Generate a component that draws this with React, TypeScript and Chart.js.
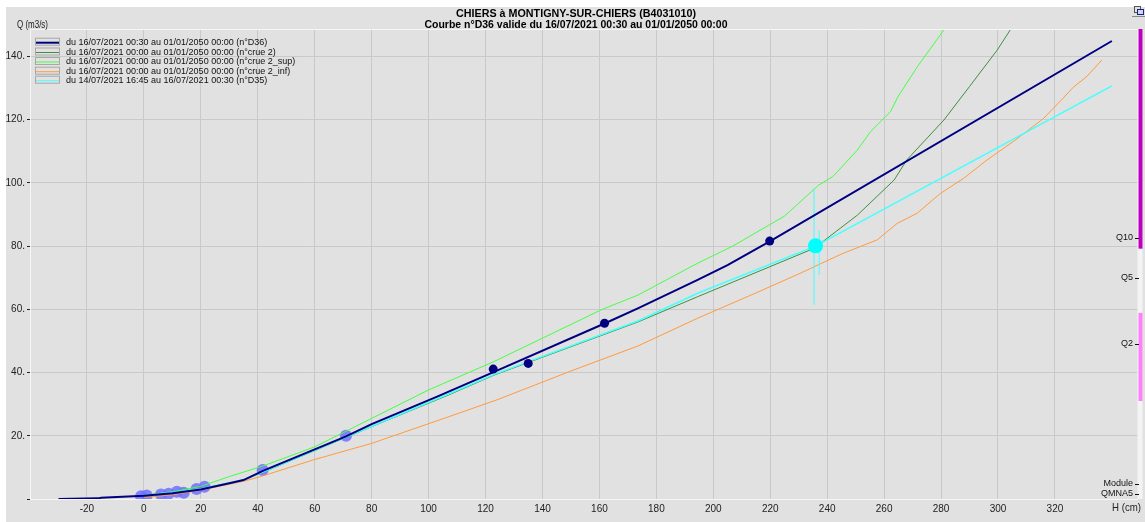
import React, { useEffect, useRef } from "react";
import { Chart, registerables } from "chart.js";

Chart.register(...registerables);

// ---------- DATA ----------
const TITLE_1 = "CHIERS à MONTIGNY-SUR-CHIERS (B4031010)";
const TITLE_2 = "Courbe n°D36 valide du 16/07/2021 00:30 au 01/01/2050 00:00";
const Y_TITLE = "Q (m3/s)";
const X_TITLE = "H (cm)";

const legendLabels = [
  "du 16/07/2021 00:30 au 01/01/2050 00:00 (n°D36)",
  "du 16/07/2021 00:00 au 01/01/2050 00:00 (n°crue 2)",
  "du 16/07/2021 00:00 au 01/01/2050 00:00 (n°crue 2_sup)",
  "du 16/07/2021 00:00 au 01/01/2050 00:00 (n°crue 2_inf)",
  "du 14/07/2021 16:45 au 16/07/2021 00:30 (n°D35)",
];
const legendColors = ["#000080", "#3f8f3f", "#44ff44", "#ff9a3c", "#44ffff"];

// D36 (navy)
const d36H = [-30, -16, -15, 0, 10, 20, 30, 35, 42, 71, 80, 103, 122, 162, 173.5, 194.5, 205, 220, 340];
const d36Q = [0, 0.2, 0.4, 1.0, 1.8, 3.0, 5.0, 6.0, 9.0, 19.8, 23.7, 32.4, 39.8, 55.6, 60.3, 69.3, 74, 81.6, 144.9];

// crue 2 (dark green)
const c2H = [0, 20, 35, 42, 80, 107, 123, 173.5, 194.5, 235.4, 250.6, 263.5, 268, 281, 290, 299.7, 304.3];
const c2Q = [1.0, 3.2, 6.0, 8.5, 22.9, 32.9, 39.2, 56.0, 64.0, 79.3, 89.8, 100.9, 107.3, 119.9, 130.5, 142, 148.4];

// crue 2_sup (bright green)
const supH = [0, 10, 20, 30, 42, 60, 80, 100, 123, 161, 173.5, 194.5, 206.8, 225, 237, 242, 250.6, 255.2, 262.2, 265, 271.7, 281];
const supQ = [1.2, 2.3, 4.0, 7.1, 10.5, 16.5, 25.5, 34.5, 43.5, 60, 64.5, 74.6, 80, 89.5, 99.3, 102, 110.4, 116.2, 122.5, 127.5, 136.8, 148.4];

// crue 2_inf (orange)
const infH = [0, 10, 20, 35, 41, 60, 80, 107, 124.4, 150, 173.5, 194.5, 215, 230, 245, 257.6, 264.6, 271.6, 279.8, 288, 296.2, 306, 316, 322, 326.6, 331, 336.5];
const infQ = [0.5, 1.3, 2.8, 5.6, 7.1, 12.5, 17.6, 26.0, 31.5, 40.5, 48.4, 57.2, 65.2, 71.2, 77.5, 82.0, 87.2, 90.4, 96.7, 101.5, 107.3, 113.5, 120.4, 126, 130.4, 133.5, 138.9];

// D35 (cyan)
const d35H = [0, 20, 35, 42, 80, 107, 123.3, 173.5, 194.5, 235.9, 340];
const d35Q = [1.0, 3.2, 6.1, 8.6, 23.0, 33.2, 39.5, 56.3, 65.1, 80.0, 130.7];

// gaugings
const gaugH = [-1, 1, 6, 8.7, 11.6, 14, 18.5, 21.3, 41.7, 71];
const gaugQ = [0.9, 1.1, 1.4, 1.7, 2.3, 2.0, 3.2, 3.9, 9.2, 20.0];
const navyPtH = [122.7, 135, 161.8, 219.8];
const navyPtQ = [41.1, 42.9, 55.6, 81.6];
const cyanPtH = [235.9];
const cyanPtQ = [80.1];
const errBar1H = [235.4, 235.4];
const errBar1Q = [61.4, 98.4];
const errBar2H = [237.2, 237.2];
const errBar2Q = [70.9, 85.0];

// reference flows (right side)
const refLabels = ["Q10", "Q5", "Q2", "Module", "QMNA5"];
const refValues = [82.6, 70.0, 49.1, 4.8, 1.6];
const bandFrom = [79.2, 31.0];
const bandTo = [148.7, 58.9];
const bandColors = ["#c000c0", "#ff80ff"];

const X_MIN = -40;
const X_MAX = 349;
const Y_MIN = 0;
const Y_MAX = 148.7;
const X_STEP = 20;
const Y_STEP = 20;

const pts = (xs: number[], ys: number[]) => xs.map((x, i) => ({ x, y: ys[i] }));

const FONT = '"Liberation Sans Narrow", "Liberation Sans", Arial, sans-serif';
const BG = "#e1e1e1";
const GRID = "#c9c9c9";

function drawTextW(ctx: CanvasRenderingContext2D, text: string, x: number, y: number, font: string, align: CanvasTextAlign, maxW?: number) {
  ctx.font = font;
  ctx.textAlign = align;
  ctx.textBaseline = "middle";
  if (maxW) ctx.fillText(text, x, y, maxW);
  else ctx.fillText(text, x, y);
}

const decorPlugin = {
  id: "decor",
  beforeDraw(chart: any) {
    const ctx = chart.ctx as CanvasRenderingContext2D;
    ctx.save();
    ctx.fillStyle = "#ffffff";
    ctx.fillRect(0, 0, chart.width, chart.height);
    ctx.fillStyle = BG;
    ctx.fillRect(6, 7, chart.width - 6, chart.height - 7);
    ctx.restore();
  },
  afterDraw(chart: any) {
    const ctx = chart.ctx as CanvasRenderingContext2D;
    const area = chart.chartArea;
    const ys = chart.scales.y;
    ctx.save();
    // top white frame line
    ctx.strokeStyle = "#f6f6f6";
    ctx.lineWidth = 1;
    ctx.beginPath();
    ctx.moveTo(area.left, area.top + 0.5);
    ctx.lineTo(area.right, area.top + 0.5);
    ctx.stroke();

    // titles
    ctx.fillStyle = "#000";
    drawTextW(ctx, TITLE_1, 576, 14, `bold 11px ${FONT}`, "center", 240);
    drawTextW(ctx, TITLE_2, 576, 24.5, `bold 11px ${FONT}`, "center", 303);
    ctx.fillStyle = "#222";
    drawTextW(ctx, Y_TITLE, 17, 25, `10px ${FONT}`, "left", 31);
    drawTextW(ctx, X_TITLE, 1141, 508, `11px ${FONT}`, "right", 29);

    // legend
    const ly = [42.7, 52.5, 62, 71.7, 80.7];
    ly.forEach((y, i) => {
      ctx.strokeStyle = "#a8a8a8";
      ctx.lineWidth = 1;
      ctx.strokeRect(35.5, y - 4.5, 24, 7);
      ctx.strokeStyle = legendColors[i];
      ctx.lineWidth = i === 0 ? 2 : 1;
      ctx.beginPath();
      ctx.moveTo(36, y);
      ctx.lineTo(59, y);
      ctx.stroke();
      ctx.fillStyle = "#111";
      drawTextW(ctx, legendLabels[i], 66, y, `9px ${FONT}`, "left");
    });

    // right strip and bands
    ctx.fillStyle = "#f4f4f4";
    ctx.fillRect(area.right, area.top, 5, area.bottom - area.top);
    bandFrom.forEach((f, i) => {
      const y1 = ys.getPixelForValue(bandTo[i]);
      const y2 = ys.getPixelForValue(f);
      ctx.fillStyle = bandColors[i];
      ctx.fillRect(area.right + 1, y1, 4, y2 - y1);
    });
    // reference labels
    refLabels.forEach((lab, i) => {
      const y = ys.getPixelForValue(refValues[i]);
      ctx.fillStyle = "#111";
      drawTextW(ctx, lab, 1133, y, `9px ${FONT}`, "right");
      ctx.strokeStyle = "#111";
      ctx.beginPath();
      ctx.moveTo(1135, Math.round(y) + 0.5);
      ctx.lineTo(1139, Math.round(y) + 0.5);
      ctx.stroke();
    });

    // small icon top-right
    ctx.strokeStyle = "#555";
    ctx.strokeRect(1134.5, 6.5, 6, 6);
    ctx.fillStyle = "#c8d8ff";
    ctx.fillRect(1137, 9, 7, 6);
    ctx.strokeStyle = "#202070";
    ctx.strokeRect(1137.5, 9.5, 6, 5);
    ctx.strokeStyle = "#888";
    ctx.beginPath();
    ctx.moveTo(1132, 16.5);
    ctx.lineTo(1145, 16.5);
    ctx.stroke();
    ctx.restore();
  },
};

export default function App() {
  const ref = useRef<HTMLCanvasElement>(null);
  useEffect(() => {
    if (!ref.current) return;
    const line = (data: any, color: string, width: number, order = 1) => ({
      data,
      borderColor: color,
      backgroundColor: color,
      borderWidth: width,
      showLine: true,
      pointRadius: 0,
      tension: 0,
      order,
    });
    const chart = new Chart(ref.current, {
      type: "scatter",
      data: {
        datasets: [
          line(pts(c2H, c2Q), "#3f8f3f", 1, 4),
          line(pts(supH, supQ), "#44ff44", 1, 4),
          line(pts(infH, infQ), "#ff9a3c", 1, 4),
          line(pts(d35H, d35Q), "#44ffff", 1.5, 3),
          line(pts(errBar1H, errBar1Q), "#44ffff", 1, 3),
          line(pts(errBar2H, errBar2Q), "#44ffff", 1, 3),
          {
            data: pts(gaugH, gaugQ),
            backgroundColor: "rgba(112,112,255,0.85)",
            borderWidth: 0,
            pointRadius: 6,
            showLine: false,
            order: 10,
          } as any,
          line(pts(d36H, d36Q), "#000080", 2, 1),
          {
            data: pts(navyPtH, navyPtQ),
            backgroundColor: "#000080",
            borderWidth: 0,
            pointRadius: 4.5,
            showLine: false,
            order: 0,
          } as any,
          {
            data: pts(cyanPtH, cyanPtQ),
            backgroundColor: "#00ffff",
            borderWidth: 0,
            pointRadius: 7.5,
            showLine: false,
            order: 2,
          } as any,
        ],
      },
      options: {
        animation: false,
        responsive: false,
        devicePixelRatio: 1,
        events: [],
        layout: { padding: { left: 6, top: 29, right: 4, bottom: 5 } },
        plugins: { legend: { display: false }, tooltip: { enabled: false }, title: { display: false } },
        scales: {
          x: {
            type: "linear",
            min: X_MIN,
            max: X_MAX,
            ticks: {
              stepSize: X_STEP,
              padding: 4,
              color: "#222",
              font: { family: FONT, size: 10 },
              maxRotation: 0,
              autoSkip: false,
              callback: (v: any) => (v === X_MIN || v >= 340 ? "" : String(v)),
            },
            grid: { color: GRID, drawTicks: false, lineWidth: 1 },
            border: { color: "#f6f6f6", width: 1 },
            afterBuildTicks: (s: any) => {
              s.ticks = s.ticks.filter((t: any) => Math.abs(t.value % X_STEP) < 1e-6);
            },
            afterFit: (s: any) => {
              s.height = 18;
            },
          } as any,
          y: {
            type: "linear",
            min: Y_MIN,
            max: Y_MAX,
            ticks: {
              stepSize: Y_STEP,
              padding: 2,
              color: "#222",
              font: { family: FONT, size: 10 },
              autoSkip: false,
              callback: (v: any) => (v === 0 ? "" : v + "."),
            },
            grid: { color: GRID, tickColor: "#222", tickLength: 3, lineWidth: 1 },
            border: { color: "#f6f6f6", width: 1 },
            afterBuildTicks: (s: any) => {
              s.ticks = s.ticks.filter((t: any) => Math.abs(t.value % Y_STEP) < 1e-6);
            },
            afterFit: (s: any) => {
              s.width = 24;
            },
          } as any,
        },
      },
      plugins: [decorPlugin],
    });
    return () => chart.destroy();
  }, []);
  return (
    <div style={{ position: "fixed", left: 0, top: 0, width: 1145, height: 522 }}>
      <canvas ref={ref} width={1145} height={522} style={{ width: 1145, height: 522, display: "block" }} />
    </div>
  );
}
